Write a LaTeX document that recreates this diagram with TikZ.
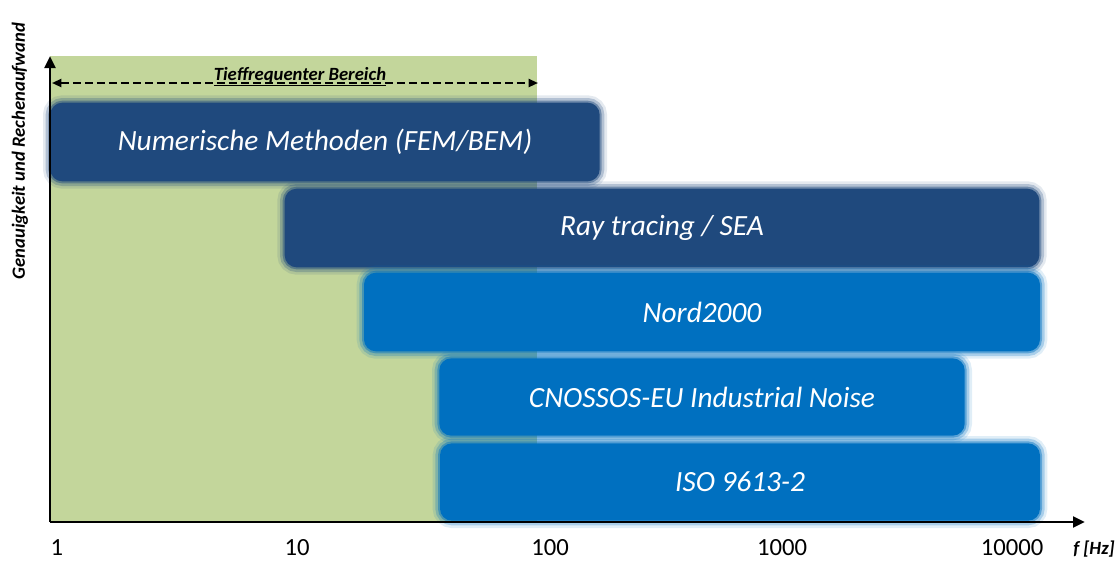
\documentclass[tikz,border=0pt]{standalone}
\usepackage{fontspec}
\setmainfont{Carlito}
\usetikzlibrary{arrows.meta}
\definecolor{darkbar}{HTML}{1F497D}
\definecolor{midbar}{HTML}{0070C0}
\definecolor{lowgreen}{HTML}{C3D69B}
\tikzset{
  bar/.style={rounded corners=9pt, fill=#1, text=white, inner sep=0pt,
    font=\fontsize{22}{26}\selectfont\itshape,
    preaction={draw=#1, draw opacity=0.12, line width=11pt},
    preaction={draw=#1, draw opacity=0.25, line width=7pt},
    preaction={draw=#1, draw opacity=0.45, line width=3pt}},
  axisline/.style={line width=2.2pt, -{Triangle[length=9pt,width=8pt]}},
  lfrange/.style={line width=1.5pt, dash pattern=on 6pt off 3pt,
    {Triangle[length=7pt,width=6pt]}-{Triangle[length=7pt,width=6pt]}},
  ticklbl/.style={font=\fontsize{18.5}{22}\selectfont, inner sep=0pt},
  smalllbl/.style={font=\fontsize{14}{17}\selectfont\bfseries\itshape, inner sep=0pt}
}
\begin{document}
\begin{tikzpicture}[x=0.75pt, y=-0.75pt]
\useasboundingbox (0,0) rectangle (1120,562);
% low-frequency region
\fill[lowgreen] (50,56) rectangle (537,522);
% bars
\node[bar=darkbar, minimum width=412pt, minimum height=59pt] (num) at (325,142) {Numerische Methoden (FEM/BEM)};
\node[bar=darkbar, minimum width=566pt, minimum height=59pt] (ray) at (662,228) {Ray tracing / SEA};
\node[bar=midbar, minimum width=507pt, minimum height=59pt] (nord) at (702,312) {Nord2000};
\node[bar=midbar, minimum width=394pt, minimum height=58pt] (cno) at (702,397) {CNOSSOS-EU Industrial Noise};
\node[bar=midbar, minimum width=450pt, minimum height=58pt] (iso) at (740,482) {ISO 9613-2};
% axes
\coordinate (O) at (50,522);
\coordinate (ytop) at (50,56);
\coordinate (xend) at (1085,522);
\draw[axisline] (O) -- (ytop);
\draw[axisline] (O) -- (xend);
% low-frequency range arrow
\coordinate (dl) at (52,83);
\coordinate (dr) at (538,83);
\draw[lfrange] (dl) -- (dr);
\node[smalllbl, anchor=base] (tief) at (300,80) {\underline{Tieffrequenter Bereich}};
% axis labels
\node[smalllbl, rotate=90] (ylab) at (20,151) {Genauigkeit und Rechenaufwand};
\node[ticklbl] (t1) at (57,548) {1};
\node[ticklbl] (t10) at (297,548) {10};
\node[ticklbl] (t100) at (550,548) {100};
\node[ticklbl] (t1000) at (782,548) {1000};
\node[ticklbl] (t10000) at (1012,548) {10000};
\node[smalllbl] (flab) at (1094,549) {f [Hz]};
\end{tikzpicture}
\end{document}
